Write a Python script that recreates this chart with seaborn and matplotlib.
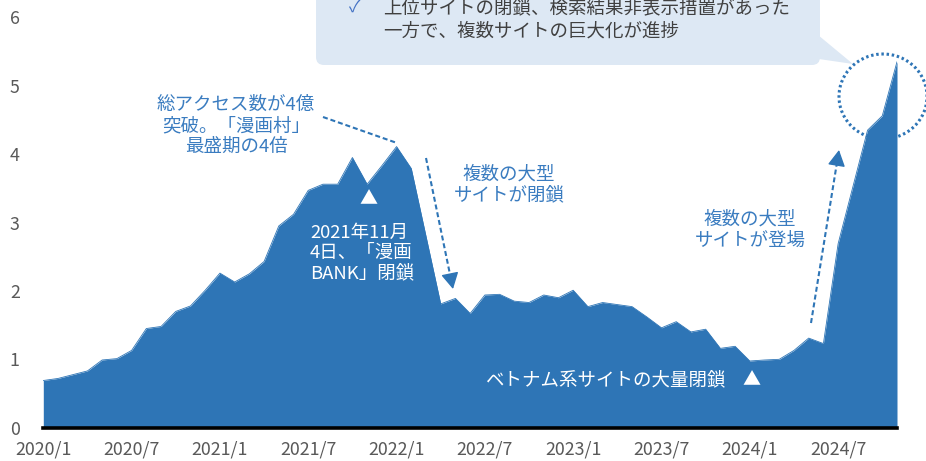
"""Monthly access volume of pirate manga sites (area chart)."""
import numpy as np
import pandas as pd
import matplotlib
matplotlib.use('Agg')
import matplotlib.pyplot as plt
from matplotlib.patches import FancyBboxPatch, Polygon, Ellipse
from matplotlib.lines import Line2D
from matplotlib.transforms import IdentityTransform
import seaborn as sns

# monthly values, 2020/1 .. 2024/11
access = [
    0.69, 0.72, 0.775, 0.83, 0.99, 1.01, 1.13, 1.45, 1.48, 1.70,
    1.78, 2.01, 2.26, 2.13, 2.25, 2.43, 2.95, 3.12, 3.47, 3.56,
    3.56, 3.95, 3.56, 3.83, 4.11, 3.79, 2.80, 1.81, 1.89, 1.67,
    1.94, 1.95, 1.85, 1.83, 1.94, 1.90, 2.01, 1.77, 1.83, 1.80,
    1.77, 1.62, 1.46, 1.55, 1.40, 1.44, 1.16, 1.19, 0.975, 0.99,
    1.00, 1.13, 1.31, 1.23, 2.69, 3.52, 4.35, 4.56, 5.35,
]
months = pd.date_range('2020-01-01', periods=len(access), freq='MS')
month_labels = [f"{m.year}/{m.month}" for m in months]
tick_labels = ['2020/1', '2020/7', '2021/1', '2021/7', '2022/1',
               '2022/7', '2023/1', '2023/7', '2024/1', '2024/7']
y_ticks = [0, 1, 2, 3, 4, 5, 6]

BLUE = '#2e75b6'
TEXT_BLUE = '#3a7cc0'
GRAY = '#595959'

W, H = 926, 461


def fp(x, y):
    """Pixel position (from top-left) to figure fraction."""
    return (x / W, 1 - y / H)


def dp(x, y):
    """Pixel position (from top-left) to display coords."""
    return (x, H - y)


def dashed_arrow(fig, start, tip, head=14):
    """Dashed shaft with a solid filled head, positions in pixels."""
    sx, sy = start
    tx, ty = tip
    v = np.array([tx - sx, ty - sy], dtype=float)
    u = v / np.hypot(*v)
    bx, by = tx - head * u[0], ty - head * u[1]
    fig.add_artist(Line2D([sx, bx + 2 * u[0]], [H - sy, H - (by + 2 * u[1])],
                          color=BLUE, linewidth=1.5,
                          linestyle=(0, (2.4, 1.4)),
                          transform=IdentityTransform()))
    fig.axes[0].annotate(
        '', xy=dp(tx, ty), xytext=dp(bx, by),
        xycoords='figure pixels', textcoords='figure pixels',
        arrowprops=dict(arrowstyle='-|>,head_length=0.55,head_width=0.3',
                        color=BLUE, lw=1.0, shrinkA=0, shrinkB=0,
                        mutation_scale=18))


sns.set_theme(style='white')
plt.rcParams['font.family'] = ['Noto Sans CJK JP', 'DejaVu Sans']

df = pd.DataFrame({'idx': np.arange(len(access)), 'value': access,
                   'month': month_labels})

fig = plt.figure(figsize=(W / 100, H / 100), dpi=100)
ax = fig.add_axes([43.3 / W, 1 - 427.7 / H, (897 - 43.3) / W, (427.7 - 17.3) / H])

sns.lineplot(data=df, x='idx', y='value', ax=ax, color=BLUE, linewidth=0.6)
ax.fill_between(df['idx'], df['value'], color=BLUE, linewidth=0)

ax.set_xlim(0, len(access) - 1)
ax.set_ylim(0, 6)
ax.set_yticks(y_ticks)
tick_pos = [month_labels.index(t) for t in tick_labels]
ax.set_xticks(tick_pos, tick_labels)
ax.set_xlabel('')
ax.set_ylabel('')
ax.tick_params(length=0, colors=GRAY, labelsize=12.8)
ax.tick_params(axis='y', pad=17)
ax.tick_params(axis='x', pad=9)
for s in ['left', 'top', 'right']:
    ax.spines[s].set_visible(False)
ax.spines['bottom'].set_color('black')
ax.spines['bottom'].set_linewidth(2.6)

# callout box at the top
box = FancyBboxPatch(dp(316, 65), 504, 100,
                     boxstyle='round,pad=0,rounding_size=8',
                     facecolor='#dde8f4', edgecolor='none',
                     transform=IdentityTransform(), clip_on=False)
fig.add_artist(box)
ptr = Polygon([dp(812, 30), dp(853, 64), dp(812, 58)], closed=True,
              facecolor='#dde8f4', edgecolor='none',
              transform=IdentityTransform(), clip_on=False)
fig.add_artist(ptr)
fig.text(*fp(355, 8), '✓', color='#4472c4', fontsize=12,
         ha='center', va='center')
fig.text(*fp(383, 8), '上位サイトの閉鎖、検索結果非表示措置があった',
         color='#404040', fontsize=13.3, ha='left', va='center')
fig.text(*fp(383, 32), '一方で、複数サイトの巨大化が進捗',
         color='#404040', fontsize=13.3, ha='left', va='center')

# dotted circle around the latest peak
circ = Ellipse(dp(883, 96.5), 88, 85, fill=False, edgecolor=BLUE,
               linestyle=(0, (0.8, 0.9)), linewidth=2.2,
               transform=IdentityTransform(), clip_on=False)
fig.add_artist(circ)

# annotation: peak
fig.text(*fp(236, 126), '総アクセス数が4億\n突破。「漫画村」\n最盛期の4倍',
         color=TEXT_BLUE, fontsize=13.3, ha='center', va='center',
         linespacing=1.2)
fig.add_artist(Line2D([323, 397], [H - 117, H - 143], color=BLUE,
                      linewidth=1.5, linestyle=(0, (2.4, 1.4)),
                      transform=IdentityTransform()))

# annotation: closures in 2022
dashed_arrow(fig, (426, 158), (453, 289))
fig.text(*fp(509, 185), '複数の大型\nサイトが閉鎖', color=TEXT_BLUE,
         fontsize=13.3, ha='center', va='center', linespacing=1.2)

# annotation: new large sites
dashed_arrow(fig, (811, 323), (839, 150))
fig.text(*fp(750, 230), '複数の大型\nサイトが登場', color=TEXT_BLUE,
         fontsize=13.3, ha='center', va='center', linespacing=1.2)

# white notes inside the area
fig.text(*fp(368, 199), '▲', color='white', fontsize=13, ha='center', va='center')
fig.text(*fp(310, 253), '2021年11月\n4日、「漫画\nBANK」閉鎖', color='white',
         fontsize=13.3, ha='left', va='center', linespacing=1.15)
fig.text(*fp(605, 380), 'ベトナム系サイトの大量閉鎖', color='white',
         fontsize=13.3, ha='center', va='center')
fig.text(*fp(751, 380), '▲', color='white', fontsize=13, ha='center', va='center')

fig.savefig('out.png', dpi=100)
